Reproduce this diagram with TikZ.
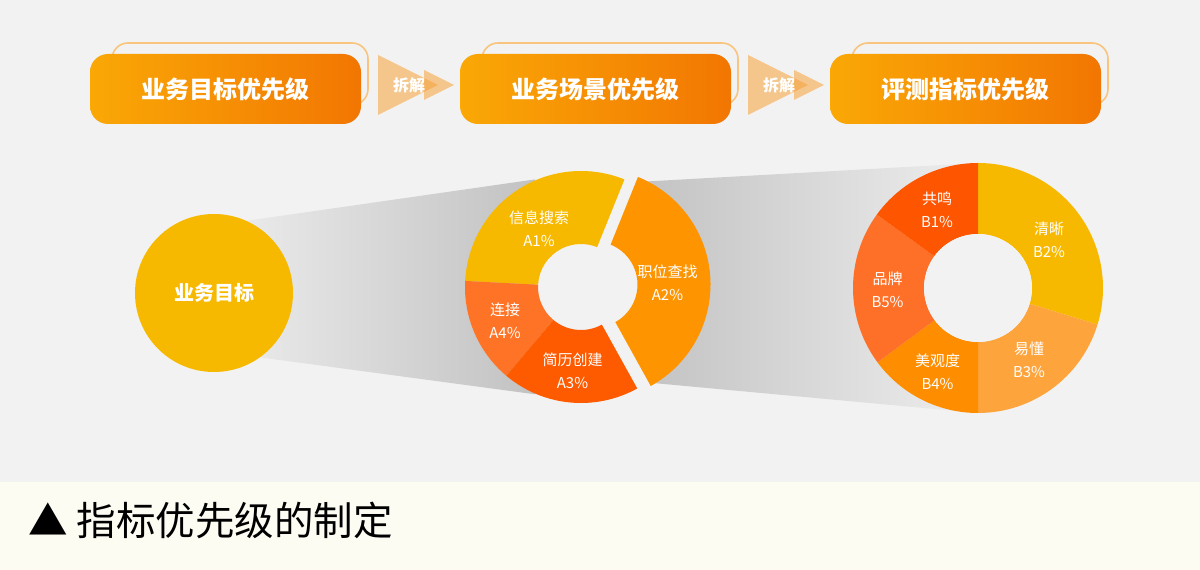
\documentclass[tikz,border=0pt]{standalone}
\usepackage{fontspec}
\setmainfont{Noto Sans CJK SC}
\definecolor{bg}{HTML}{F2F2F2}
\definecolor{cream}{HTML}{FDFCF2}
\definecolor{boxL}{HTML}{FAA806}
\definecolor{boxR}{HTML}{F27602}
\definecolor{outl}{HTML}{F8C47E}
\definecolor{triC}{HTML}{F6A23A}
\definecolor{yel}{HTML}{F7B900}
\definecolor{oraA}{HTML}{FD9400}
\definecolor{redA}{HTML}{FE5A00}
\definecolor{conA}{HTML}{FE7325}
\definecolor{lgtB}{HTML}{FEA43C}
\definecolor{oraB}{HTML}{FE8D00}
\definecolor{brnB}{HTML}{FE7028}
\definecolor{redB}{HTML}{FE5500}
\definecolor{grayD}{HTML}{C2C2C2}
\definecolor{grayL}{HTML}{EDEDED}
\newcommand\ringsec[7]{%
  \fill[#7] ([shift={(#1,#2)}]#3:#5pt) arc[start angle=#3,end angle=#4,radius=#5pt]
    -- ([shift={(#1,#2)}]#4:#6pt) arc[start angle=#4,end angle=#3,radius=#6pt] -- cycle;}
\begin{document}
\begin{tikzpicture}[x=1pt,y=1pt,
  mainbox/.style={rounded corners=18pt, left color=boxL, right color=boxR,
    minimum width=271pt, minimum height=70pt, text=white,
    font=\fontsize{24}{28}\selectfont\bfseries},
  outbox/.style={draw=outl, line width=1.6pt, rounded corners=16pt},
  tri/.style={fill=triC, fill opacity=0.55},
  split/.style={text=white, font=\fontsize{16}{18}\selectfont\bfseries, inner sep=0},
  lbl/.style={text=white, align=center, inner sep=0, font=\fontsize{15}{23}\selectfont}]
\useasboundingbox (0,0) rectangle (1200,570);
% background
\fill[bg] (0,0) rectangle (1200,570);
\fill[cream] (0,0) rectangle (1200,88);

% top boxes
\draw[outbox] (112,465) rectangle (368,527);
\draw[outbox] (482,465) rectangle (738,527);
\draw[outbox] (852,465) rectangle (1108,527);
\node[mainbox] (b1) at (225.5,481) {业务目标优先级};
\node[mainbox] (b2) at (595.5,481) {业务场景优先级};
\node[mainbox] (b3) at (965.5,481) {评测指标优先级};

% arrows
\fill[tri] (378,515) -- (378,455) -- (438,485) -- cycle;
\fill[tri] (424,500) -- (424,470) -- (454,485) -- cycle;
\fill[tri] (748,515) -- (748,455) -- (808,485) -- cycle;
\fill[tri] (794,500) -- (794,470) -- (824,485) -- cycle;
\node[split] (s1) at (409,485) {拆解};
\node[split] (s2) at (779,485) {拆解};

% funnels
\shade[left color=grayL, right color=grayD]
  (220,345.4) -- (535,390.6) -- (535,175.7) -- (220,218) -- cycle;
\shade[left color=grayD, right color=grayL!95!white]
  (637,388) -- (978,407) -- (978,157) -- (653,187) -- cycle;

% left circle
\node[circle, fill=yel, minimum size=158pt, inner sep=0, text=white,
  font=\fontsize{20}{24}\selectfont\bfseries] (goal) at (214,277) {业务目标};

% middle donut
\ringsec{581}{283}{68}{177}{116}{43}{yel}
\ringsec{581}{283}{177}{230}{116}{43}{conA}
\ringsec{581}{283}{230}{299}{116}{43}{redA}
\ringsec{594.5}{285.5}{-61}{68}{116}{43}{oraA}
\node[lbl] (a1) at (539,341.5) {信息搜索\\A1\%};
\node[lbl] (a2) at (667.5,287) {职位查找\\A2\%};
\node[lbl] (a4) at (505,249) {连接\\A4\%};
\node[lbl] (a3) at (572.5,199) {简历创建\\A3\%};

% right donut
\ringsec{978}{282}{-17}{90}{125}{54}{yel}
\ringsec{978}{282}{-90}{-17}{125}{54}{lgtB}
\ringsec{978}{282}{216.5}{270}{125}{54}{oraB}
\ringsec{978}{282}{144}{216.5}{125}{54}{brnB}
\ringsec{978}{282}{90}{144}{125}{54}{redB}
\fill[bg] (978,282) circle[radius=54pt];
\node[lbl] (r1) at (937,360.5) {共鸣\\B1\%};
\node[lbl] (r2) at (1049,330) {清晰\\B2\%};
\node[lbl] (r5) at (887.5,280.5) {品牌\\B5\%};
\node[lbl] (r4) at (937.5,198.5) {美观度\\B4\%};
\node[lbl] (r3) at (1029,210.5) {易懂\\B3\%};

% caption
\node[anchor=west, inner sep=0, text=black, font=\fontsize{39.5}{42}\selectfont] (cap) at (28,50) {▲ 指标优先级的制定};
\end{tikzpicture}
\end{document}
